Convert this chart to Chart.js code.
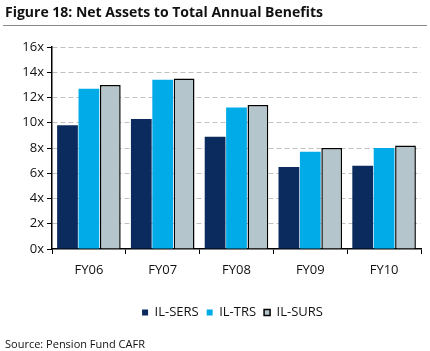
<!DOCTYPE html>
<html><head><meta charset="utf-8">
<script src="https://cdn.jsdelivr.net/npm/chart.js@4/dist/chart.umd.min.js"></script>
<style>
html,body{margin:0;padding:0;background:#fff;width:430px;height:351px;overflow:hidden;font-family:"Open Sans",sans-serif;}
#title{position:absolute;left:5px;top:2px;font-weight:bold;font-size:14px;color:#111;white-space:nowrap;}
#rule{position:absolute;left:3px;top:25px;width:424px;height:0;border-top:1px solid #8a8a8a;}
#src{position:absolute;left:5px;top:336px;font-size:11px;color:#111;white-space:nowrap;}
#wrap{position:absolute;left:0;top:0;width:430px;height:351px;}
</style></head>
<body>
<div id="wrap"><canvas id="c" width="430" height="351"></canvas></div>
<div id="title">Figure 18: Net Assets to Total Annual Benefits</div>
<div id="rule"></div>
<div id="src">Source: Pension Fund CAFR</div>
<script>
const categories = ["FY06","FY07","FY08","FY09","FY10"];
const ilSers = [9.8, 10.3, 8.9, 6.5, 6.6];
const ilTrs  = [12.7, 13.4, 11.2, 7.7, 8.0];
const ilSurs = [13.0, 13.5, 11.4, 8.0, 8.2];
const yTicks = [0,2,4,6,8,10,12,14,16];

const FONT = "'Open Sans', sans-serif";
const legendShift = {
  id:'legendShift',
  afterLayout(chart){
    const lg = chart.legend;
    if (lg) { lg.left += 22; lg.right += 22; }
  }
};
new Chart(document.getElementById('c'), {
  type: 'bar',
  data: {
    labels: categories,
    datasets: [
      {label:'IL-SERS', data: ilSers, backgroundColor:'#0b2b5e', borderWidth:0},
      {label:'IL-TRS', data: ilTrs, backgroundColor:'#00abe8', borderWidth:0},
      {label:'IL-SURS', data: ilSurs, backgroundColor:'#b4c6cc', borderColor:'#000', borderWidth:1.5}
    ]
  },
  plugins:[legendShift],
  options: {
    responsive:false, animation:false, devicePixelRatio:1,
    layout:{padding:{left:0,right:9,top:47,bottom:22}},
    datasets:{bar:{barPercentage:0.97, categoryPercentage:0.87}},
    plugins:{
      legend:{position:'bottom', labels:{boxWidth:6, boxHeight:6, padding:8, color:'#111', font:{family:FONT,size:13}}},
      tooltip:{enabled:false}
    },
    scales:{
      x:{
        grid:{offset:true, drawOnChartArea:false, drawTicks:true, tickLength:5, tickColor:'#000', color:'#000'},
        border:{color:'#000', width:1.5},
        ticks:{color:'#111', padding:8, font:{family:FONT,size:13}},
        afterFit:(s)=>{s.height=49;}
      },
      y:{
        min:0, max:16,
        afterBuildTicks:(s)=>{s.ticks = yTicks.map(v=>({value:v}));},
        grid:{color:(c)=> c.tick && c.tick.value===0 ? 'rgba(0,0,0,0)' : '#c0c0c0', lineWidth:1, tickLength:5, tickColor:'#000', tickBorderDash:[]},
        border:{color:'#000', width:1.5, dash:[5,3]},
        ticks:{color:'#111', padding:3, font:{family:FONT,size:13}, callback:(v)=> v+'x'},
        afterFit:(s)=>{s.width=52;}
      }
    }
  }
});
</script>
</body></html>
